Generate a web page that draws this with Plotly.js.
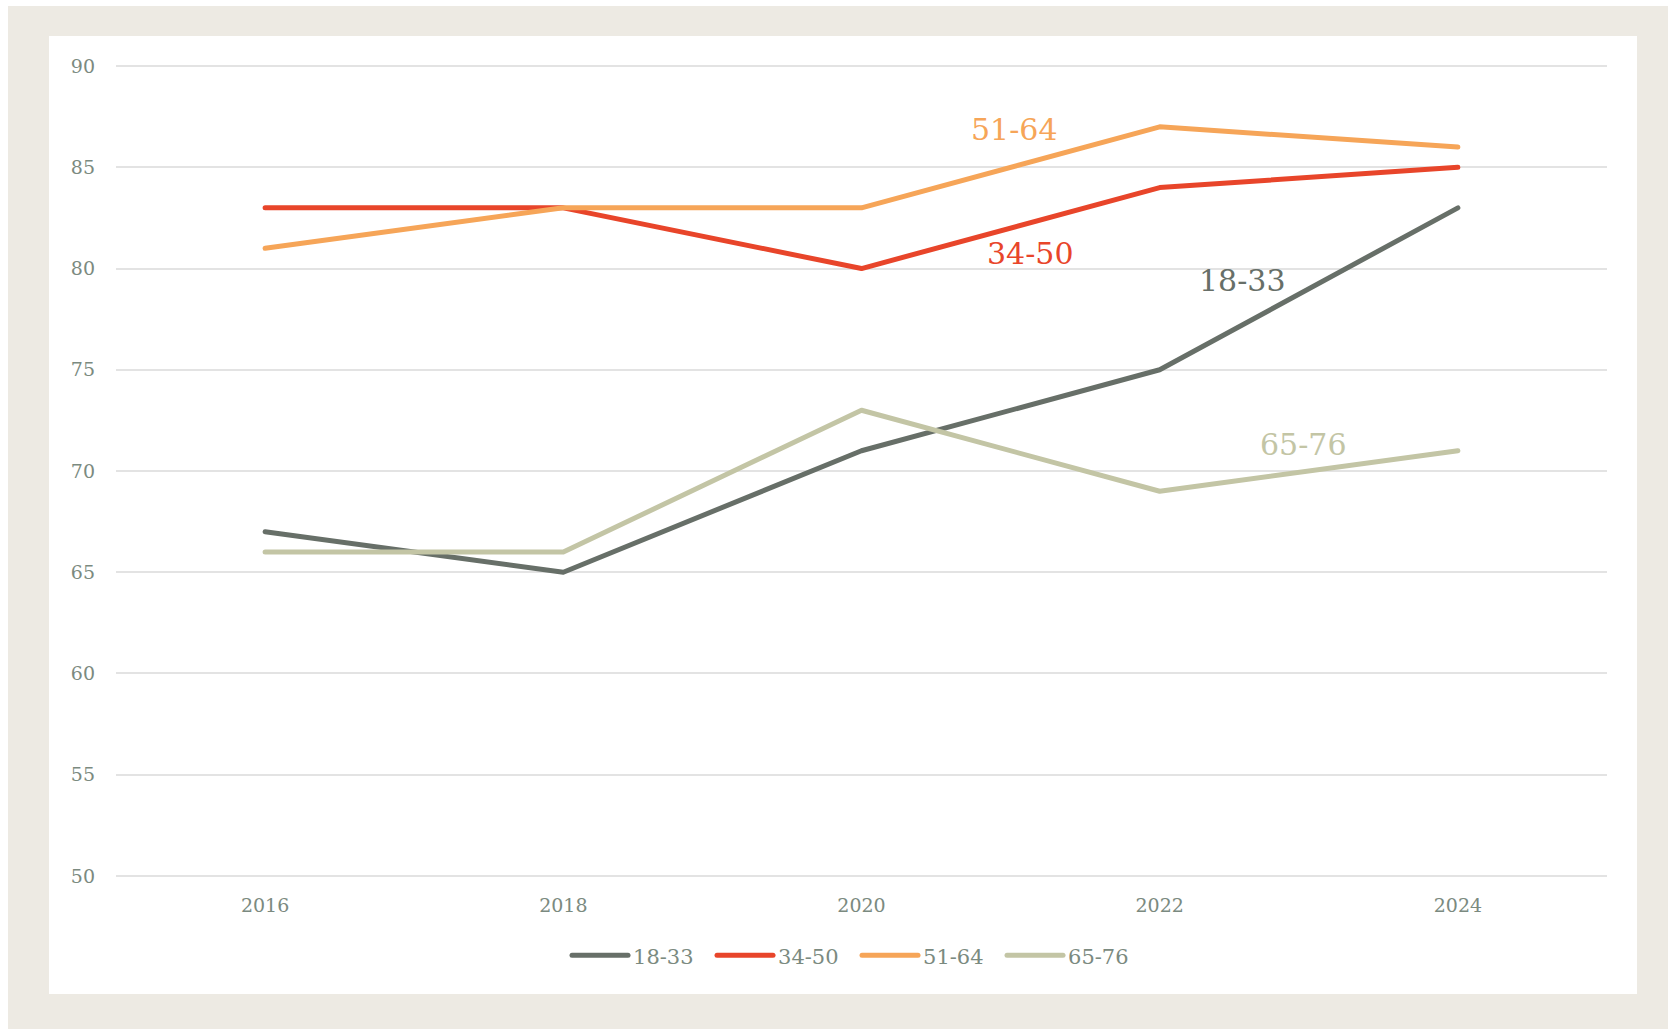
<!DOCTYPE html>
<html>
<head>
<meta charset="utf-8">
<script src="https://cdn.plot.ly/plotly-3.0.1.min.js"></script>
<style>
  html, body { margin: 0; padding: 0; background: #ffffff; width: 1668px; height: 1029px; overflow: hidden; }
  #frame { position: absolute; left: 8px; top: 6px; width: 1660px; height: 1023px; background: #edeae3; }
  #chart { position: absolute; left: 49px; top: 36px; width: 1588px; height: 958px; background: #ffffff; }
  .js-line { stroke-linecap: round; stroke-linejoin: round; }
  .legendlines path { stroke-linecap: round; }
</style>
</head>
<body>
<div id="frame"></div>
<div id="chart"></div>
<script>
const years = ['2016', '2018', '2020', '2022', '2024'];
const seriesNames = ['18-33', '34-50', '51-64', '65-76'];
const age18to33 = [67, 65, 71, 75, 83];
const age34to50 = [83, 83, 80, 84, 85];
const age51to64 = [81, 83, 83, 87, 86];
const age65to76 = [66, 66, 73, 69, 71];
const seriesColors = ['#676f68', '#e8452a', '#f6a558', '#c3c5a5'];
const yTicks = [50, 55, 60, 65, 70, 75, 80, 85, 90];

const values = [age18to33, age34to50, age51to64, age65to76];
const FONT = "Georgia, 'DejaVu Serif', serif";
const textColor = '#7b8a80';

const traces = values.map((v, i) => ({
  type: 'scatter',
  mode: 'lines',
  name: seriesNames[i],
  x: years,
  y: v,
  line: { color: seriesColors[i], width: 5 },
  hoverinfo: 'skip'
}));

// inline series labels: [category position, value position]
const labelPos = [[3.276, 79.42], [2.564, 80.73], [2.51, 86.85], [3.481, 71.32]];

const annotations = seriesNames.map((n, i) => ({
  x: labelPos[i][0], y: labelPos[i][1], xref: 'x', yref: 'y',
  text: n, showarrow: false, xanchor: 'center', yanchor: 'middle',
  font: { family: FONT, size: 30, color: seriesColors[i] }
}));

const layout = {
  width: 1588, height: 958,
  paper_bgcolor: '#ffffff', plot_bgcolor: '#ffffff',
  margin: { l: 67, r: 30, t: 20, b: 108, pad: 0 },
  font: { family: FONT, color: textColor, size: 19 },
  showlegend: true,
  legend: {
    orientation: 'h', x: 0.497, xanchor: 'center',
    yref: 'container', y: 0.04, yanchor: 'middle',
    font: { family: FONT, size: 21, color: textColor },
    itemwidth: 56, entrywidth: 74, traceorder: 'normal'
  },
  xaxis: {
    type: 'category', range: [-0.5, 4.5],
    showgrid: false, zeroline: false, showline: false,
    ticks: '', ticklabelstandoff: 6,
    tickfont: { family: FONT, size: 19, color: textColor },
    fixedrange: true
  },
  yaxis: {
    range: [49.5, 90.5], tickvals: yTicks, ticktext: yTicks.map(String),
    showgrid: true, gridcolor: '#e3e3e3', gridwidth: 2,
    zeroline: false, showline: false, ticks: '', ticklabelstandoff: 20,
    tickfont: { family: FONT, size: 19, color: textColor },
    fixedrange: true
  },
  annotations: annotations,
  hovermode: false
};

Plotly.newPlot('chart', traces, layout, { displayModeBar: false, staticPlot: true });
</script>
</body>
</html>
